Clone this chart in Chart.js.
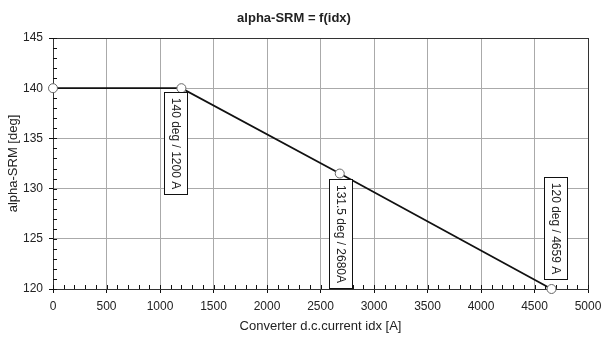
<!DOCTYPE html>
<html>
<head>
<meta charset="utf-8">
<script src="https://cdn.jsdelivr.net/npm/chart.js@4.4.1/dist/chart.umd.min.js"></script>
<style>
  html, body { margin: 0; padding: 0; background: #fff; }
  #wrap { width: 603px; height: 340px; position: relative; }
</style>
</head>
<body>
<div id="wrap"><canvas id="chart"></canvas></div>
<script>
  // Characteristic: firing angle vs. converter current
  const currentA = [0, 1200, 2680, 4659];
  const alphaDeg = [140, 140, 131.5, 120];
  const pointLabels = [null, '140 deg / 1200 A', '131.5 deg / 2680A', '120 deg / 4659 A'];

  const xRange = [0, 5000];
  const yRange = [120, 145];
  const xMajorStep = 500, xMinorStep = 100;
  const yMajorStep = 5, yMinorStep = 1;

  const FONT = '"Liberation Sans", Arial, Helvetica, sans-serif';
  const INK = '#222';

  // label box placement relative to its point (box rotated, text reads downward)
  const labelPlacement = [
    null,
    { dx: -5, dy: 4, side: 'below' },
    { dx: 1, dy: 5, side: 'below' },
    { dx: 4, dy: -9, side: 'above' }
  ];

  // frame + minor ticks, drawn before the line so the line sits on top
  const frameTicks = {
    id: 'frameTicks',
    beforeDatasetsDraw(chart) {
      const { ctx, chartArea: a, scales: { x, y } } = chart;
      ctx.save();
      ctx.strokeStyle = '#333';
      ctx.lineWidth = 1;
      ctx.strokeRect(Math.round(a.left) + 0.5, Math.round(a.top) + 0.5,
        Math.round(a.right - a.left), Math.round(a.bottom - a.top));

      ctx.strokeStyle = '#111';
      ctx.beginPath();
      for (let v = xRange[0]; v <= xRange[1]; v += xMinorStep) {
        const px = Math.round(x.getPixelForValue(v)) + 0.5;
        ctx.moveTo(px, a.bottom);
        ctx.lineTo(px, a.bottom - 4);
      }
      for (let v = yRange[0]; v <= yRange[1]; v += yMinorStep) {
        const py = Math.round(y.getPixelForValue(v)) + 0.5;
        ctx.moveTo(a.left, py);
        ctx.lineTo(a.left + 4, py);
      }
      ctx.stroke();
      ctx.restore();
    }
  };

  // boxed, rotated value labels at the knee points
  const valueBoxes = {
    id: 'valueBoxes',
    afterDatasetsDraw(chart) {
      const { ctx, scales: { x, y } } = chart;
      ctx.save();
      ctx.font = '12px ' + FONT;
      pointLabels.forEach((text, i) => {
        if (!text) return;
        const p = labelPlacement[i];
        const px = x.getPixelForValue(currentA[i]);
        const py = y.getPixelForValue(alphaDeg[i]);
        const tw = ctx.measureText(text).width;
        const boxH = Math.round(tw + 12);
        const boxW = 24;
        const cx = Math.round(px + p.dx);
        const top = p.side === 'below' ? Math.round(py + p.dy) : Math.round(py + p.dy - boxH);
        const left = cx - boxW / 2;
        ctx.fillStyle = '#fff';
        ctx.fillRect(left, top, boxW, boxH);
        ctx.strokeStyle = '#111';
        ctx.lineWidth = 1;
        ctx.strokeRect(left + 0.5, top + 0.5, boxW - 1, boxH - 1);
        ctx.save();
        ctx.translate(cx, top + boxH / 2);
        ctx.rotate(Math.PI / 2);
        ctx.fillStyle = INK;
        ctx.textAlign = 'center';
        ctx.textBaseline = 'middle';
        ctx.fillText(text, 0, 1);
        ctx.restore();
      });
      ctx.restore();
    }
  };

  new Chart(document.getElementById('chart'), {
    type: 'scatter',
    data: {
      datasets: [{
        data: currentA.map((v, i) => ({ x: v, y: alphaDeg[i] })),
        showLine: true,
        borderColor: '#111',
        borderWidth: 1.8,
        pointRadius: 4.5,
        pointBackgroundColor: '#fff',
        pointBorderColor: '#666',
        pointBorderWidth: 1,
        clip: false
      }]
    },
    options: {
      responsive: true,
      maintainAspectRatio: false,
      animation: false,
      layout: { padding: { left: 0, right: 15, top: 0, bottom: 0 } },
      plugins: {
        legend: { display: false },
        tooltip: { enabled: false },
        title: {
          display: true,
          text: 'alpha-SRM = f(idx)',
          color: INK,
          font: { family: FONT, size: 13, weight: 'bold' },
          padding: { top: 11, bottom: 11.4 }
        }
      },
      scales: {
        x: {
          type: 'linear',
          min: xRange[0], max: xRange[1],
          afterFit(scale) { scale.height = 51; scale.paddingRight = 0; scale.paddingLeft = 0; },
          ticks: { stepSize: xMajorStep, color: INK, padding: 6, maxRotation: 0,
            callback: v => String(v),
            font: { family: FONT, size: 12 } },
          grid: { color: '#aaa', lineWidth: 1, tickLength: 4, tickColor: '#111' },
          border: { display: true, color: '#111', width: 1 },
          title: { display: true, text: 'Converter d.c.current idx [A]', color: INK,
            font: { family: FONT, size: 13 }, padding: { top: 0, bottom: 6 } }
        },
        y: {
          type: 'linear',
          min: yRange[0], max: yRange[1],
          afterFit(scale) { scale.width = 53; },
          ticks: { stepSize: yMajorStep, color: INK, padding: 6,
            callback: v => String(v),
            font: { family: FONT, size: 12 } },
          grid: { color: '#aaa', lineWidth: 1, tickLength: 4, tickColor: '#111' },
          border: { display: true, color: '#111', width: 1 },
          title: { display: true, text: 'alpha-SRM [deg]', color: INK,
            font: { family: FONT, size: 13 }, padding: { top: 6, bottom: 0 } }
        }
      }
    },
    plugins: [frameTicks, valueBoxes]
  });
</script>
</body>
</html>
